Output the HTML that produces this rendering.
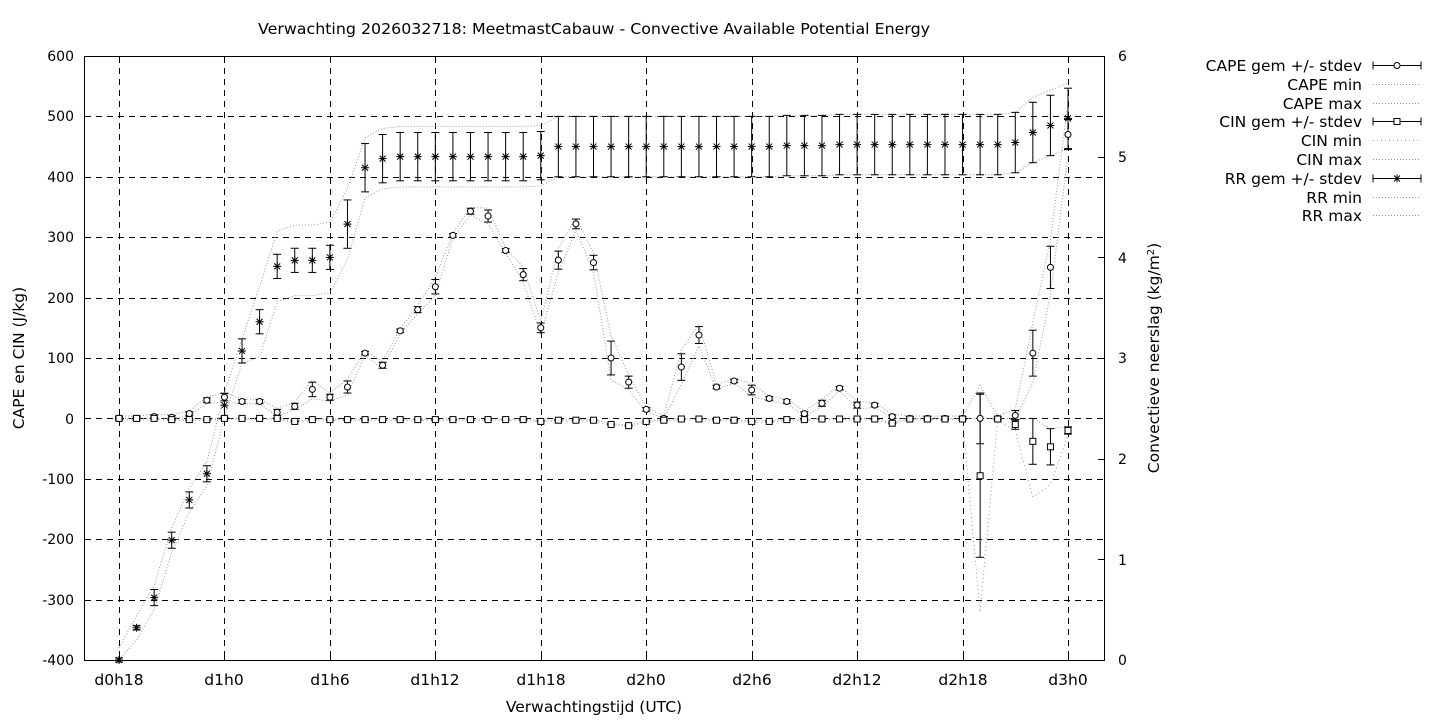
<!DOCTYPE html>
<html><head><meta charset="utf-8"><style>
html,body{margin:0;padding:0;background:#fff;}
svg{display:block;font-family:"DejaVu Sans","Liberation Sans",sans-serif;}
text{font-size:14px;fill:#000;}
.w{font-size:15.5px;}
</style></head><body>
<svg id="s" width="1440" height="720" viewBox="0 0 1440 720" xmlns="http://www.w3.org/2000/svg">
<rect width="1440" height="720" fill="#fff"/>
<text class="w" x="258" y="34" textLength="672" lengthAdjust="spacingAndGlyphs">Verwachting 2026032718: MeetmastCabauw - Convective Available Potential Energy</text>
<g id="grid" stroke="#000" stroke-width="1" stroke-dasharray="6,5" fill="none"></g>
<rect x="84.5" y="56.5" width="1020" height="604" fill="none" stroke="#000"/>
<g text-anchor="end">
<text x="74" y="61">600</text><text x="74" y="121">500</text><text x="74" y="182">400</text>
<text x="74" y="242">300</text><text x="74" y="303">200</text><text x="74" y="363">100</text>
<text x="74" y="424">0</text><text x="74" y="484">-100</text><text x="74" y="544">-200</text>
<text x="74" y="605">-300</text><text x="74" y="665">-400</text>
</g>
<g text-anchor="start">
<text x="1118" y="61">6</text><text x="1118" y="162">5</text><text x="1118" y="263">4</text>
<text x="1118" y="363">3</text><text x="1118" y="464">2</text><text x="1118" y="565">1</text>
<text x="1118" y="665">0</text>
</g>
<g text-anchor="middle" class="w">
<text class="w" x="119" y="685">d0h18</text><text class="w" x="224" y="685">d1h0</text><text class="w" x="330" y="685">d1h6</text>
<text class="w" x="435" y="685">d1h12</text><text class="w" x="541" y="685">d1h18</text><text class="w" x="646" y="685">d2h0</text>
<text class="w" x="752" y="685">d2h6</text><text class="w" x="857" y="685">d2h12</text><text class="w" x="963" y="685">d2h18</text>
<text class="w" x="1068" y="685">d3h0</text>
<text class="w" x="594" y="712">Verwachtingstijd (UTC)</text>
</g>
<text class="w" transform="translate(24,358) rotate(-90)" text-anchor="middle">CAPE en CIN (J/kg)</text>
<text class="w" transform="translate(1159,358) rotate(-90)" text-anchor="middle">Convectieve neerslag (kg/m<tspan dy="-5" font-size="10">2</tspan><tspan dy="5">)</tspan></text>
<g text-anchor="end">
<text class="w" x="1362" y="71">CAPE gem +/- stdev</text>
<text class="w" x="1362" y="90">CAPE min</text>
<text class="w" x="1362" y="109">CAPE max</text>
<text class="w" x="1362" y="127">CIN gem +/- stdev</text>
<text class="w" x="1362" y="146">CIN min</text>
<text class="w" x="1362" y="165">CIN max</text>
<text class="w" x="1362" y="184">RR gem +/- stdev</text>
<text class="w" x="1362" y="203">RR min</text>
<text class="w" x="1362" y="221">RR max</text>
</g>
<g id="d"></g>
</svg>
<script>
const NS="http://www.w3.org/2000/svg";const d=document.getElementById('d'),g=document.getElementById('grid');
function el(t,a,p){const e=document.createElementNS(NS,t);for(const k in a)e.setAttribute(k,a[k]);(p||d).appendChild(e);return e;}
function yL(v){return 660-(v+400)*0.604;}
function yR(v){return 660-v*100.67;}
function X(i){return 119+17.574*i;}
const xs=[119,224,330,435,541,646,752,857,963,1068];
xs.forEach(x=>el('line',{x1:x+.5,y1:57,x2:x+.5,y2:660},g));
for(let v=-300;v<=500;v+=100){const y=Math.round(yL(v))+.5;el('line',{x1:85,y1:y,x2:1104,y2:y},g);}
xs.forEach(x=>{el('line',{x1:x+.5,y1:660,x2:x+.5,y2:654,stroke:'#000'});el('line',{x1:x+.5,y1:57,x2:x+.5,y2:63,stroke:'#000'});});
for(let v=-400;v<=600;v+=100){const y=Math.round(yL(v))+.5;el('line',{x1:84,y1:y,x2:90,y2:y,stroke:'#000'});}
for(let v=0;v<=6;v++){const y=Math.round(yR(v))+.5;el('line',{x1:1098,y1:y,x2:1104,y2:y,stroke:'#000'});}
const cape=[0,0,3,2,8,30,35,28,28,10,20,48,35,52,108,88,145,180,218,303,343,335,278,238,150,262,322,258,100,60,15,0,85,138,52,62,47,33,28,8,25,50,22,22,3,0,0,0,0,0,0,5,108,250,470];
const capeS=[3,3,3,3,3,4,6,3,3,5,5,12,5,10,3,5,3,5,12,3,5,10,3,10,8,15,8,12,28,10,3,3,22,14,3,3,8,3,3,3,5,3,5,3,3,3,3,3,3,42,3,8,38,35,25];
const cin=[0,0,0,-2,-2,-2,0,0,0,0,-5,-2,-2,-2,-2,-2,-2,-2,-2,-2,-2,-2,-2,-2,-5,-3,-3,-3,-10,-12,-5,-3,-1,-1,-3,-3,-5,-5,-2,-2,-1,-1,-1,-1,-8,-1,-1,-1,-1,-95,-1,-10,-38,-47,-20];
const cinS=cin.map((v,i)=>i==49?135:i==52?38:i==53?30:i==54?6:i==51?8:1);
const rr=[0,0.32,0.62,1.19,1.59,1.85,2.53,3.07,3.36,3.91,3.97,3.97,4.0,4.33,4.89,4.98,5.0,5.0,5.0,5.0,5.0,5.0,5.0,5.0,5.01,5.1,5.1,5.1,5.1,5.1,5.1,5.1,5.1,5.1,5.1,5.1,5.1,5.1,5.11,5.11,5.11,5.12,5.12,5.12,5.12,5.12,5.12,5.12,5.12,5.12,5.12,5.14,5.24,5.31,5.38];
const rrS=rr.map((v,i)=>i<2?0.02:i<6?0.08:i<13?0.12:i<25?0.24:0.3);
function dotline(pts,dash){el('polyline',{points:pts.map(p=>p[0].toFixed(1)+','+p[1].toFixed(1)).join(' '),fill:'none',stroke:'#999',"stroke-width":1,"stroke-dasharray":dash||'1,2'});}
dotline(cape.map((v,i)=>[X(i),yL(Math.max(0,v-capeS[i]*1.3))]));
dotline(cape.map((v,i)=>[X(i),yL(v+capeS[i]*1.3+(i==54?20:0))]));
dotline(cin.map((v,i)=>[X(i),yL(i==49?-320:i==52?-130:i==53?-110:v-cinS[i]*1.3)]),'1,3');
dotline(cin.map((v,i)=>[X(i),yL(Math.min(0,v+cinS[i]))]));
dotline(rr.map((v,i)=>[X(i),yR(Math.max(0,v-(i<8?0.12:i<14?0.35:0.3)))]));
dotline(rr.map((v,i)=>[X(i),yR(v+(i<8?0.12:i<14?0.35:0.3)+(i>=52?0.05:0))]));
function ebar(x,y1,y2){el('line',{x1:x,y1:y1,x2:x,y2:y2,stroke:'#000'});el('line',{x1:x-4,y1:y1,x2:x+4,y2:y1,stroke:'#000'});el('line',{x1:x-4,y1:y2,x2:x+4,y2:y2,stroke:'#000'});}
function star(x,y){el('path',{d:`M${x-4} ${y}h8M${x} ${y-4}v8M${x-3} ${y-3}l6 6M${x-3} ${y+3}l6 -6`,stroke:'#000',fill:'none'});}
for(let i=0;i<55;i++){const x=X(i);
ebar(x,yL(cape[i]+capeS[i]),yL(cape[i]-capeS[i]));
ebar(x,yL(cin[i]+cinS[i]),yL(cin[i]-cinS[i]));
ebar(x,yR(rr[i]+rrS[i]),yR(rr[i]-rrS[i]));}
for(let i=0;i<55;i++){const x=X(i);
el('circle',{cx:x,cy:yL(cape[i]),r:3,fill:'#fff',stroke:'#000'});
el('rect',{x:x-3,y:yL(cin[i])-3,width:6,height:6,fill:'#fff',stroke:'#000'});
star(x,yR(rr[i]));}
const ly=[65.5,84.5,103.5,121.5,140.5,159.5,178.5,197.5,215.5];
ly.forEach((y,k)=>{const x1=1373,x2=1421;
if(k%3==0){el('line',{x1,y1:y,x2,y2:y,stroke:'#000'});el('line',{x1,y1:y-4,x2:x1,y2:y+4,stroke:'#000'});el('line',{x1:x2,y1:y-4,x2,y2:y+4,stroke:'#000'});
if(k==0)el('circle',{cx:1397,cy:y,r:3,fill:'#fff',stroke:'#000'});else if(k==3)el('rect',{x:1394,y:y-3,width:6,height:6,fill:'#fff',stroke:'#000'});else star(1397,y);}
else el('line',{x1,y1:y,x2,y2:y,stroke:'#999',"stroke-dasharray":k==4?'1,3':'1,2'});});
</script>
</body></html>
